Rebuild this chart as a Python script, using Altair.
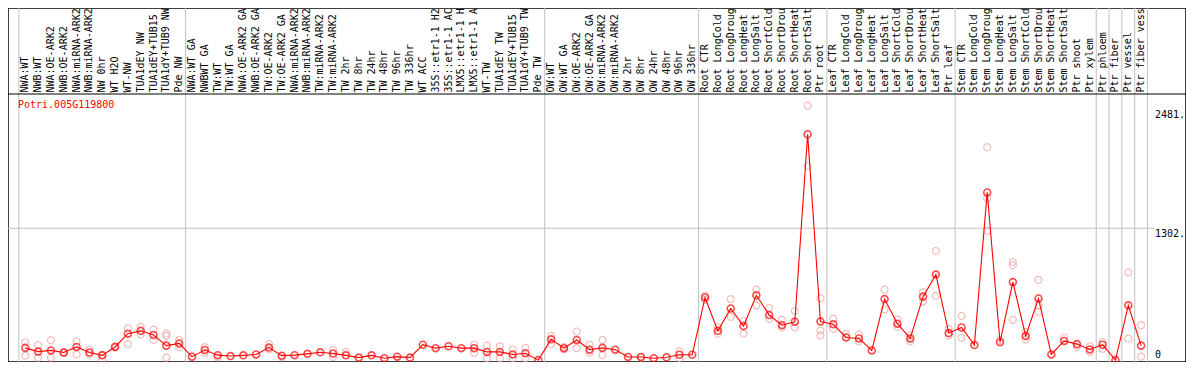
import altair as alt
import pandas as pd

gene = "Potri.005G119800"

labels = [
    "NWA:WT", "NWB:WT", "NWA:OE-ARK2", "NWB:OE-ARK2", "NWA:miRNA-ARK2", "NWB:miRNA-ARK2",
    "NW 0hr", "WT H2O", "WT-NW", "TUA1dEY NW", "TUA1dEY+TUB15 NW", "TUA1dY+TUB9 NW", "Pde NW",
    "NWA:WT GA", "NWBWT GA", "TW:WT", "TW:WT GA", "NWA:OE-ARK2 GA", "NWB:OE-ARK2 GA",
    "TW:OE-ARK2", "TW:OE-ARK2 GA", "NWA:miRNA-ARK2 GA", "NWB:miRNA-ARK2 GA", "TW:miRNA-ARK2",
    "TW:miRNA-ARK2 GA", "TW 2hr", "TW 8hr", "TW 24hr", "TW 48hr", "TW 96hr", "TW 336hr",
    "WT ACC", "35S::etr1-1 H2O", "35S::etr1-1 ACC", "LMX5::etr1-1 H2O", "LMX5::etr1-1 ACC",
    "WT-TW", "TUA1dEY TW", "TUA1dEY+TUB15 TW", "TUA1dY+TUB9 TW", "Pde TW",
    "OW:WT", "OW:WT GA", "OW:OE-ARK2", "OW:OE-ARK2 GA", "OW:miRNA-ARK2", "OW:miRNA-ARK2 GA",
    "OW 2hr", "OW 8hr", "OW 24hr", "OW 48hr", "OW 96hr", "OW 336hr",
    "Root CTR", "Root LongCold", "Root LongDrought", "Root LongHeat", "Root LongSalt",
    "Root ShortCold", "Root ShortDrought", "Root ShortHeat", "Root ShortSalt", "Ptr root",
    "Leaf CTR", "Leaf LongCold", "Leaf LongDrought", "Leaf LongHeat", "Leaf LongSalt",
    "Leaf ShortCold", "Leaf ShortDrought", "Leaf ShortHeat", "Leaf ShortSalt", "Ptr leaf",
    "Stem CTR", "Stem LongCold", "Stem LongDrought", "Stem LongHeat", "Stem LongSalt",
    "Stem ShortCold", "Stem ShortDrought", "Stem ShortHeat", "Stem ShortSalt", "Ptr shoot",
    "Ptr xylem", "Ptr phloem", "Ptr fiber", "Ptr vessel", "Ptr fiber vessel",
]

means = [
    121, 84, 96, 75, 130, 75, 47, 130, 261, 289, 249, 143, 165,
    34, 100, 49, 40, 47, 56, 124, 44, 49, 62, 77, 65, 47, 25, 47, 19, 34, 25,
    152, 118, 137, 118, 118, 81, 81, 56, 68, 0,
    205, 118, 199, 103, 121, 103, 31, 31, 19, 28, 53, 53,
    618, 289, 510, 336, 640, 445, 345, 379, 2230, 382,
    354, 224, 214, 96, 603, 360, 214, 627, 845, 267,
    323, 149, 1656, 177, 770, 239, 609, 56, 189, 158, 105,
    152, 0, 541, 143,
]

reps = [
    [177, 44], [149, 25], [196, 25], [80, 70], [184, 56], [105, 56], [53, 12], [135, 125],
    [314, 158], [329, 254], [301, 199], [261, 240, 25], [199, 128],
    [], [128, 75], [28], [], [], [], [158, 105], [28], [], [], [], [100, 31], [81],
    [], [], [], [], [], [], [], [], [], [152, 75], [143, 19], [137, 19], [105, 19], [121, 19], [],
    [240, 158], [130, 105], [282, 118], [152, 75], [199, 49], [], [], [25], [], [], [87, 19], [],
    [634, 596], [323, 261], [603, 426], [385, 261], [696, 541], [515, 404], [398, 323],
    [485, 323], [2514, 1917], [612, 292, 245],
    [410, 310], [261], [254, 184], [], [696, 500], [401, 329], [245, 184], [671, 578],
    [1078, 634], [308, 245],
    [438, 221], [], [2103, 1597, 1277], [199], [969, 938, 398], [277, 205], [792, 541, 478],
    [], [221], [130], [137, 81],
    [177, 112], [], [867, 212], [345, 34],
]

boundaries = [0, 13, 41, 53, 63, 73, 84, 85, 86, 87, 88]
tick_values = [0, 1302, 2481]
tick_labels = ["0", "1302.", "2481."]

W, H = 1178, 354
HEADER = 86
xs = alt.Scale(domain=[-11 / 13, 88 + 39 / 13], nice=False, zero=False)
ys = alt.Scale(domain=[-18.6, 3477], nice=False, zero=False)
MONO = "DejaVu Sans Mono"

df = pd.DataFrame({"pos": [i + 0.5 for i in range(len(labels))], "label": labels, "mean": means})
rep_df = pd.DataFrame(
    [{"pos": i + 0.5, "value": v} for i, vs in enumerate(reps) for v in vs]
)
bdf = pd.DataFrame({"b": boundaries})
tdf = pd.DataFrame({"v": tick_values, "t": tick_labels})
one = pd.DataFrame({"t": [gene]})

X = alt.X("pos:Q", scale=xs, axis=None)

vgrid = alt.Chart(bdf).mark_rule(color="#c0c0c0", strokeWidth=1).encode(
    x=alt.X("b:Q", scale=xs, axis=None), y=alt.value(0), y2=alt.value(H)
)
hgrid = alt.Chart(tdf).transform_filter("datum.v == 1302").mark_rule(
    color="#c0c0c0", strokeWidth=1
).encode(y=alt.Y("v:Q", scale=ys, axis=None), x=alt.value(0), x2=alt.value(1146))
header_line = alt.Chart(one).mark_rule(color="black", strokeWidth=1).encode(
    y=alt.value(HEADER), x=alt.value(0), x2=alt.value(W)
)
header_labels = alt.Chart(df).transform_calculate(
    shown="substring(datum.label, 0, 14)"
).mark_text(
    angle=270, align="left", baseline="middle", font=MONO, fontSize=10,
    color="black", clip=True,
).encode(x=X, y=alt.value(HEADER - 1.5), text="shown:N")

rep_pts = alt.Chart(rep_df).mark_point(
    shape="circle", filled=False, color="#f2a0a0", size=48, strokeWidth=1.2, clip=True
).encode(x=X, y=alt.Y("value:Q", scale=ys, axis=None))
line = alt.Chart(df).mark_line(color="#ff0000", strokeWidth=1.1, clip=True).encode(
    x=X, y=alt.Y("mean:Q", scale=ys, axis=None)
)
mean_pts = alt.Chart(df).mark_point(
    shape="circle", filled=False, color="#ff0000", size=48, strokeWidth=1.6, clip=True
).encode(x=X, y=alt.Y("mean:Q", scale=ys, axis=None))

title = alt.Chart(one).mark_text(
    align="left", baseline="middle", font=MONO, fontSize=10, color="#ff0000"
).encode(text="t:N", x=alt.value(10), y=alt.value(97))

tick_top = alt.Chart(tdf).transform_filter("datum.v > 0").mark_text(
    align="left", baseline="top", font=MONO, fontSize=10, color="black", dy=1
).encode(y=alt.Y("v:Q", scale=ys, axis=None), x=alt.value(1147), text="t:N")
tick_zero = alt.Chart(tdf).transform_filter("datum.v == 0").mark_text(
    align="left", baseline="bottom", font=MONO, fontSize=10, color="black"
).encode(y=alt.Y("v:Q", scale=ys, axis=None), x=alt.value(1147), text="t:N")

chart = alt.layer(
    vgrid, hgrid, header_line, header_labels, rep_pts, line, mean_pts, title, tick_top, tick_zero
).properties(
    width=W, height=H, padding=0, autosize=alt.AutoSizeParams(type="none"),
    background="white",
).configure_view(stroke="black", strokeWidth=1.5)

chart.save("out.html", embed_options={"renderer": "svg", "actions": False})
